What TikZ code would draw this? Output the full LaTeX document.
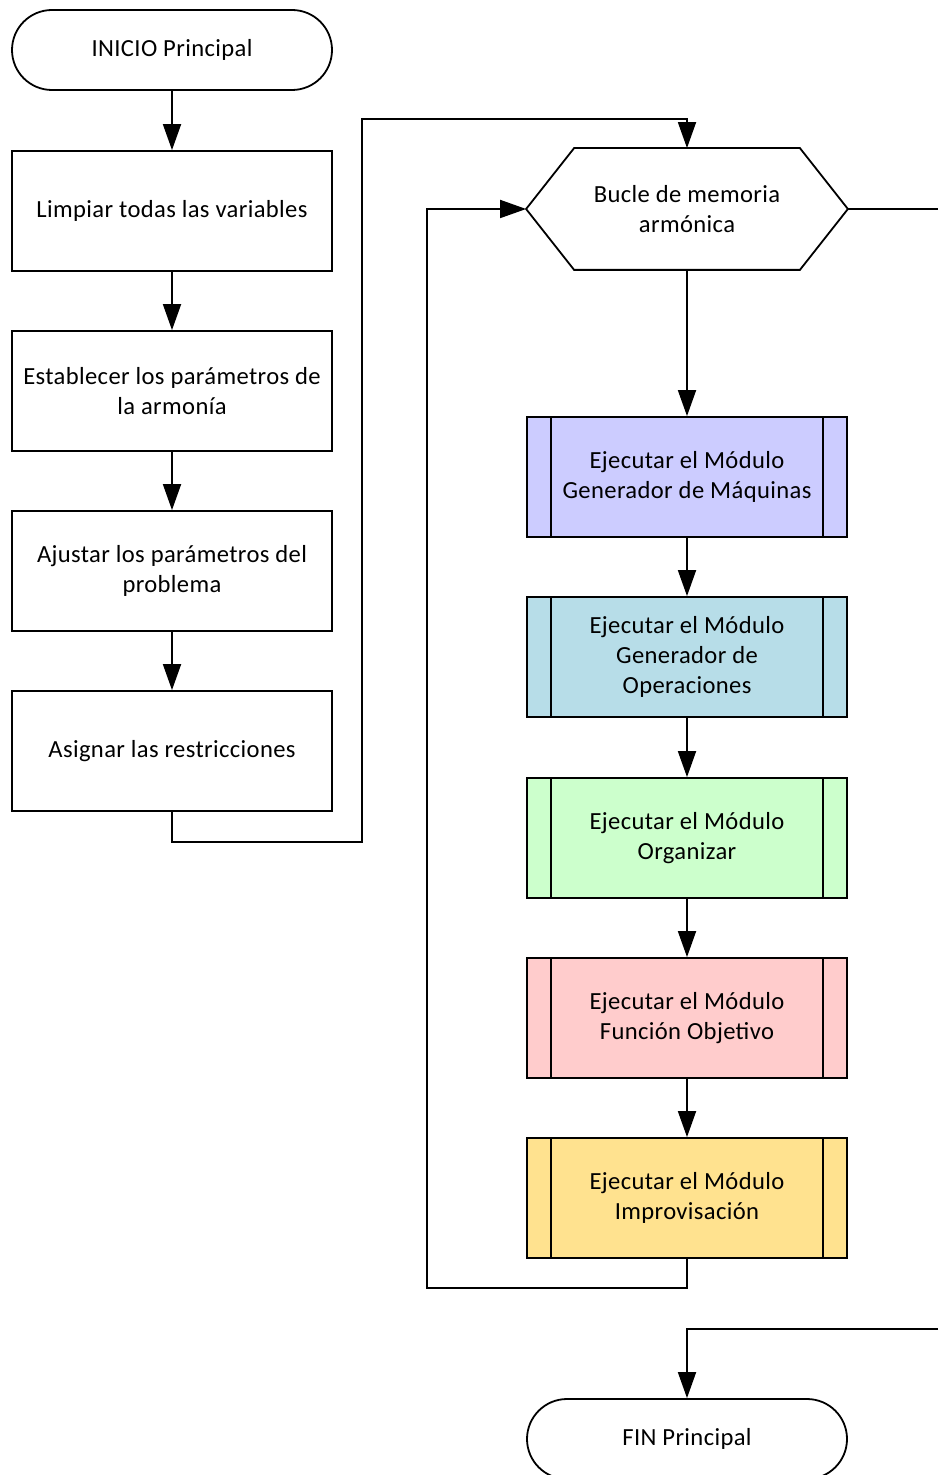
\documentclass[tikz,border=0pt]{standalone}
\usepackage{fontspec}
\setmainfont[LetterSpace=1.5]{Carlito}
\usetikzlibrary{shapes.misc,arrows.meta}
\definecolor{cpurple}{RGB}{204,204,255}
\definecolor{cblue}{RGB}{183,221,232}
\definecolor{cgreen}{RGB}{204,255,204}
\definecolor{cpink}{RGB}{255,204,204}
\definecolor{cyellow}{RGB}{255,226,143}
\tikzset{
  base/.style={minimum width=160pt, minimum height=60pt, align=center, line width=0.9pt,
    font=\fontsize{12.3}{15}\selectfont, inner sep=2pt},
  procbox/.style={base, draw, rectangle},
  termbox/.style={base, draw, rounded rectangle, minimum width=164pt, minimum height=40pt},
  hexbox/.style={base, draw=none},
  subbox/.style={base, draw, rectangle, fill=#1,
    path picture={
      \draw[line width=0.9pt] ([xshift=12pt]path picture bounding box.north west) -- ([xshift=12pt]path picture bounding box.south west);
      \draw[line width=0.9pt] ([xshift=-12pt]path picture bounding box.north east) -- ([xshift=-12pt]path picture bounding box.south east);
    }},
  conn/.style={line width=0.9pt},
  arr/.style={conn, -{Triangle[length=13pt,width=9pt]}},
}
\begin{document}
\begin{tikzpicture}[x=0.5pt,y=-0.5pt]
\useasboundingbox (0,0) rectangle (938,1475);
\clip (0,0) rectangle (938,1475);
\node[termbox] (ini) at (172,50) {INICIO Principal};
\node[procbox] (lim) at (172,211) {Limpiar todas las variables};
\node[procbox] (est) at (172,391) {Establecer los parámetros de\\la armonía};
\node[procbox] (aju) at (172,571) {Ajustar los parámetros del\\problema};
\node[procbox] (asg) at (172,751) {Asignar las restricciones};

\node[hexbox] (hex) at (687,209) {Bucle de memoria\\armónica};
\draw[line width=0.9pt] (hex.west) -- ([xshift=24pt]hex.north west) -- ([xshift=-24pt]hex.north east)
  -- (hex.east) -- ([xshift=-24pt]hex.south east) -- ([xshift=24pt]hex.south west) -- cycle;

\node[subbox=cpurple] (b1) at (687,477) {Ejecutar el Módulo\\Generador de Máquinas};
\node[subbox=cblue] (b2) at (687,657) {Ejecutar el Módulo\\Generador de\\Operaciones};
\node[subbox=cgreen] (b3) at (687,838) {Ejecutar el Módulo\\Organizar};
\node[subbox=cpink] (b4) at (687,1018) {Ejecutar el Módulo\\Función Objetivo};
\node[subbox=cyellow] (b5) at (687,1198) {Ejecutar el Módulo\\Improvisación};

\node[termbox] (fin) at (687,1439) {FIN Principal};

\coordinate (j1) at (362,119);
\coordinate (l1) at (427,1288);
\coordinate (r1) at (938,209);
\coordinate (r2) at (938,1329);

\draw[arr] (ini) -- (lim);
\draw[arr] (lim) -- (est);
\draw[arr] (est) -- (aju);
\draw[arr] (aju) -- (asg);
\draw[arr] (asg.south) -- ++(0,30) -| (j1) -| (hex.north);
\draw[arr] (hex.south) -- (b1.north);
\draw[arr] (b1) -- (b2);
\draw[arr] (b2) -- (b3);
\draw[arr] (b3) -- (b4);
\draw[arr] (b4) -- (b5);
\draw[arr] (b5.south) |- (l1) |- (hex.west);
\draw[conn] (hex.east) -- (r1);
\draw[arr] (r2) -| (fin.north);
\end{tikzpicture}
\end{document}
